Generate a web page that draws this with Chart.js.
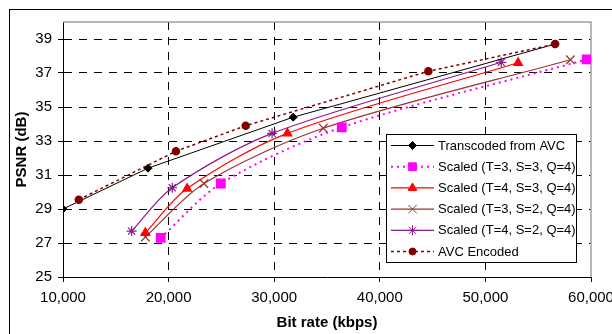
<!DOCTYPE html>
<html>
<head>
<meta charset="utf-8">
<script src="https://cdn.jsdelivr.net/npm/chart.js@4.4.0/dist/chart.umd.min.js"></script>
<style>
  html, body { margin: 0; padding: 0; background: #fff; }
</style>
</head>
<body>
<canvas id="chart" width="612" height="334"></canvas>
<script>
// values (bit rate in kbps, PSNR in dB)
const transRate = [10000, 18050, 31800, 56600];
const transPsnr = [29.0, 31.4, 34.4, 38.7];

const s334Rate = [19250, 24950, 36400, 59600];
const s334Psnr = [27.3, 30.5, 33.8, 37.8];

const s434Rate = [17800, 21750, 31250, 53100];
const s434Psnr = [27.6, 30.2, 33.45, 37.6];

const s324Rate = [17800, 23350, 34650, 58050];
const s324Psnr = [27.35, 30.5, 33.75, 37.78];

const s424Rate = [16500, 20350, 29800, 51500];
const s424Psnr = [27.7, 30.25, 33.45, 37.63];

const avcRate = [11500, 20700, 27300, 44600, 56600];
const avcPsnr = [29.55, 32.4, 33.9, 37.1, 38.7];

const xTicks = [10000, 20000, 30000, 40000, 50000, 60000];
const yTicks = [25, 27, 29, 31, 33, 35, 37, 39];

const FONT = '"Liberation Sans", Arial, sans-serif';

function pts(xs, ys) {
  return xs.map((x, i) => ({ x: x, y: ys[i] }));
}

// white legend box with a black border, drawn over the plot
const boxLegend = {
  id: 'boxLegend',
  afterDatasetsDraw(chart) {
    const ctx = chart.ctx;
    ctx.save();
    ctx.fillStyle = '#fff';
    ctx.fillRect(386.5, 134.5, 190, 128);
    ctx.strokeStyle = '#000';
    ctx.lineWidth = 1;
    ctx.strokeRect(386.5, 134.5, 190, 128);
    chart.data.datasets.forEach((ds, i) => {
      const cy = 145.5 + i * 21.2;
      ctx.beginPath();
      ctx.setLineDash(ds.borderDash || []);
      ctx.strokeStyle = ds.borderColor;
      ctx.lineWidth = ds.borderWidth;
      ctx.moveTo(391, cy);
      ctx.lineTo(434, cy);
      ctx.stroke();
      ctx.setLineDash([]);
      ctx.fillStyle = ds.pointBackgroundColor;
      ctx.strokeStyle = ds.pointBorderColor;
      ctx.lineWidth = 1;
      Chart.helpers.drawPoint(ctx, { pointStyle: ds.pointStyle, radius: ds.pointRadius, rotation: 0, borderWidth: 1 }, 412.5, cy);
      ctx.fillStyle = '#000';
      ctx.font = '13px ' + FONT;
      ctx.textAlign = 'left';
      ctx.textBaseline = 'middle';
      ctx.fillText(ds.label, 438, cy + 0.5);
    });
    ctx.restore();
  }
};

// grey top/right plot border and the outer frame
const frame = {
  id: 'frame',
  beforeDatasetsDraw(chart) {
    const a = chart.chartArea;
    const ctx = chart.ctx;
    ctx.save();
    ctx.strokeStyle = '#a0a0a0';
    ctx.lineWidth = 1.5;
    ctx.beginPath();
    ctx.moveTo(a.left, a.top);
    ctx.lineTo(a.right, a.top);
    ctx.lineTo(a.right, a.bottom);
    ctx.stroke();
    ctx.restore();
  },
  afterDraw(chart) {
    const ctx = chart.ctx;
    ctx.save();
    ctx.strokeStyle = '#000';
    ctx.lineWidth = 1;
    ctx.strokeRect(9.5, 9.5, 700, 400);
    ctx.restore();
  }
};

new Chart(document.getElementById('chart'), {
  type: 'line',
  data: {
    datasets: [
      {
        label: 'Transcoded from AVC',
        data: pts(transRate, transPsnr),
        borderColor: '#000000', borderWidth: 1,
        pointStyle: 'rectRot', pointRadius: 4,
        pointBackgroundColor: '#000000', pointBorderColor: '#000000',
        tension: 0
      },
      {
        label: 'Scaled (T=3, S=3, Q=4)',
        data: pts(s334Rate, s334Psnr),
        borderColor: '#ff00ff', borderWidth: 2, borderDash: [2, 4],
        pointStyle: 'rect', pointRadius: 5.5,
        pointBackgroundColor: '#ff00ff', pointBorderColor: '#ff00ff',
        tension: 0.3
      },
      {
        label: 'Scaled (T=4, S=3, Q=4)',
        data: pts(s434Rate, s434Psnr),
        borderColor: '#ff0000', borderWidth: 1.2,
        pointStyle: 'triangle', pointRadius: 5,
        pointBackgroundColor: '#ff0000', pointBorderColor: '#ff0000',
        tension: 0.3
      },
      {
        label: 'Scaled (T=3, S=2, Q=4)',
        data: pts(s324Rate, s324Psnr),
        borderColor: '#993333', borderWidth: 1.2,
        pointStyle: 'crossRot', pointRadius: 6,
        pointBackgroundColor: '#993333', pointBorderColor: '#993333',
        tension: 0.3
      },
      {
        label: 'Scaled (T=4, S=2, Q=4)',
        data: pts(s424Rate, s424Psnr),
        borderColor: '#8b1a8b', borderWidth: 1.2,
        pointStyle: 'star', pointRadius: 5,
        pointBackgroundColor: '#8b1a8b', pointBorderColor: '#8b1a8b',
        tension: 0.3
      },
      {
        label: 'AVC Encoded',
        data: pts(avcRate, avcPsnr),
        borderColor: '#800000', borderWidth: 1.5, borderDash: [3, 3],
        pointStyle: 'circle', pointRadius: 3.5,
        pointBackgroundColor: '#800000', pointBorderColor: '#800000',
        tension: 0, order: -1
      }
    ]
  },
  options: {
    responsive: false,
    animation: false,
    layout: { padding: { top: 22, right: 21, left: 0, bottom: 0 } },
    plugins: { legend: { display: false }, tooltip: { enabled: false } },
    scales: {
      x: {
        type: 'linear',
        min: 10000, max: 60000,
        afterBuildTicks: (scale) => { scale.ticks = xTicks.map(v => ({ value: v })); },
        afterFit: (scale) => {
          scale.height = 57;
          scale.paddingLeft = 0;
          scale.paddingRight = 0;
        },
        border: { display: true, color: '#000', width: 1, dash: [8, 7] },
        grid: {
          color: (c) => (c.tick && (c.tick.value === 10000 || c.tick.value === 60000)) ? 'rgba(0,0,0,0)' : '#000',
          lineWidth: 1,
          tickLength: 5,
          tickColor: '#000',
          tickBorderDash: []
        },
        ticks: {
          color: '#000', padding: 7,
          font: { family: FONT, size: 15 },
          callback: (v) => v.toLocaleString('en-US')
        },
        title: {
          display: true, text: 'Bit rate (kbps)', color: '#000',
          font: { family: FONT, size: 15, weight: 'bold' },
          padding: { top: 0, bottom: 2 }
        }
      },
      y: {
        min: 25, max: 40,
        afterBuildTicks: (scale) => { scale.ticks = yTicks.map(v => ({ value: v })); },
        afterFit: (scale) => {
          scale.width = 63;
          scale.paddingTop = 0;
          scale.paddingBottom = 0;
        },
        border: { display: true, color: '#000', width: 1, dash: [8, 7] },
        grid: {
          color: (c) => (c.tick && c.tick.value === 25) ? 'rgba(0,0,0,0)' : '#000',
          lineWidth: 1,
          tickLength: 5,
          tickColor: '#000'
        },
        ticks: {
          color: '#000', padding: 6,
          font: { family: FONT, size: 15 }
        },
        title: {
          display: true, text: 'PSNR (dB)', color: '#000',
          font: { family: FONT, size: 15, weight: 'bold' },
          padding: { top: 13, bottom: 0 }
        }
      }
    },
    elements: { line: { borderJoinStyle: 'round' } }
  },
  plugins: [frame, boxLegend]
});
</script>
</body>
</html>
